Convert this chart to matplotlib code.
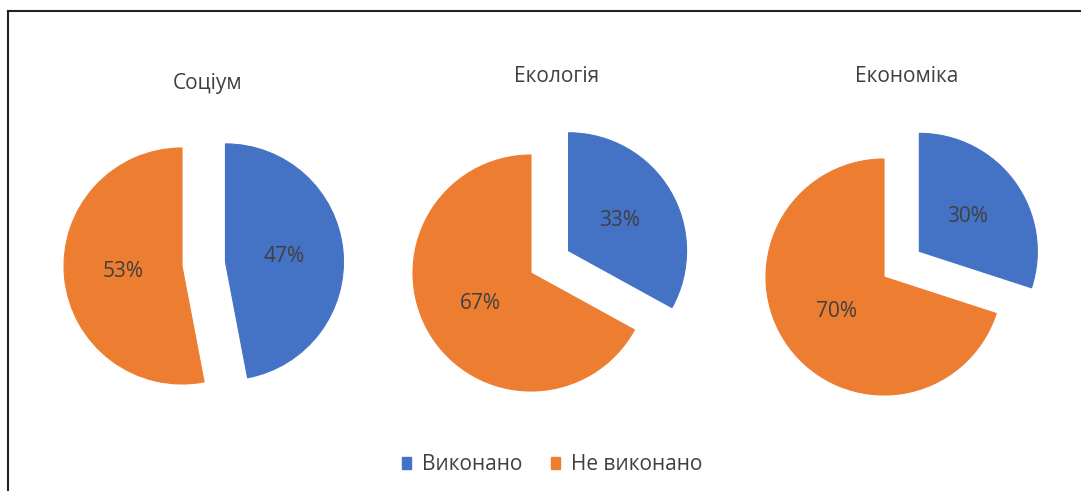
import matplotlib
matplotlib.use("Agg")
import matplotlib.pyplot as plt
from matplotlib.lines import Line2D
from matplotlib.patches import Patch

plt.rcParams['font.family'] = ['Open Sans', 'DejaVu Sans']

# Data
titles = ["Соціум", "Екологія", "Економіка"]
categories = ["Виконано", "Не виконано"]
done = [47, 33, 30]
not_done = [53, 67, 70]
colors = ["#4472C4", "#ED7D31"]
text_color = "#404040"

W, H = 1081, 491
fig = plt.figure(figsize=(W / 100, H / 100), dpi=100)
fig.patch.set_facecolor("white")

# layout (pixels, y from top)
centers = [(182, 266), (531, 273), (884, 277)]
title_pos = [(208, 84), (557, 77), (907, 77)]
R = 118
half = 160

for i in range(3):
    cx, cy = centers[i]
    ax = fig.add_axes([(cx - half) / W, (H - cy - half) / H, 2 * half / W, 2 * half / H])
    vals = [done[i], not_done[i]]
    wedges, texts = ax.pie(
        vals, colors=colors, startangle=90, counterclock=False,
        explode=[0.37, 0], radius=1.0,
        labels=[f"{v}%" for v in vals], labeldistance=0.5,
        wedgeprops=dict(linewidth=0.8, edgecolor="white"),
        textprops=dict(color=text_color, fontsize=15, ha="center", va="center"),
    )
    for w, c in zip(wedges, colors):
        w.set_edgecolor(c)
    lim = half / R
    ax.set_xlim(-lim, lim)
    ax.set_ylim(-lim, lim)
    ax.set_aspect("equal")
    ax.axis("off")
    tx, ty = title_pos[i]
    fig.text(tx / W, 1 - ty / H, titles[i], ha="center", va="center",
             fontsize=15, color=text_color)

# legend
handles = [Patch(facecolor=c, edgecolor=c) for c in colors]
fig.legend(handles, categories, loc="center", bbox_to_anchor=(552 / W, 1 - 465 / H),
           ncol=2, frameon=False, fontsize=15, labelcolor=text_color,
           handlelength=0.45, handleheight=0.45, handletextpad=0.5, columnspacing=1.4)

# border lines (left and top)
fig.add_artist(Line2D([8 / W, 8 / W], [0, 1 - 11 / H], transform=fig.transFigure,
                      color="#222222", linewidth=1.5))
fig.add_artist(Line2D([8 / W, 1], [1 - 11 / H, 1 - 11 / H], transform=fig.transFigure,
                      color="#222222", linewidth=1.5))

fig.savefig("out.png", dpi=100, facecolor="white")
